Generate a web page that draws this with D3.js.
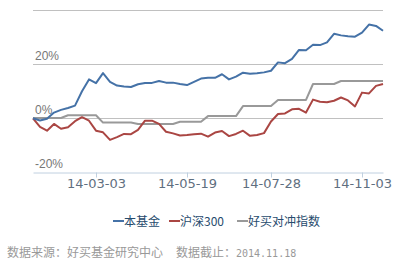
<!DOCTYPE html>
<html>
<head>
<meta charset="utf-8">
<script src="https://cdn.jsdelivr.net/npm/d3@7"></script>
<style>
  body { margin: 0; background: #fff; }
  svg { display: block; font-family: "Liberation Sans", Arial, sans-serif; }
</style>
</head>
<body>
<div id="chart"></div>
<script>
// weekly cumulative returns (%)
const fundValues = [
  -0.1, -0.9, -0.3, 2.0, 3.0, 3.7, 4.6, 9.9, 14.3, 12.9,
  16.6, 13.4, 12.0, 11.7, 11.5, 12.5, 13.0, 13.0, 13.7, 13.1,
  13.1, 12.6, 12.2, 13.4, 14.6, 14.9, 14.9, 16.2, 14.3, 15.3,
  16.8, 16.4, 16.6, 16.9, 17.5, 20.6, 20.3, 21.9, 25.2, 25.1,
  27.1, 27.0, 28.0, 31.2, 30.6, 30.3, 30.1, 31.6, 34.6, 34.1,
  32.3
];
const hs300Values = [
  -0.1, -3.3, -4.7, -2.2, -4.0, -3.4, -1.2, 0.3, -1.0, -4.7,
  -5.3, -8.1, -7.1, -5.9, -6.0, -4.4, -1.0, -1.0, -2.2, -5.1,
  -5.7, -6.5, -6.3, -6.0, -5.8, -6.9, -5.4, -4.8, -6.7, -5.9,
  -4.7, -6.6, -6.3, -5.6, -1.3, 1.5, 1.7, 3.2, 3.4, 2.0,
  6.8, 6.0, 5.8, 6.4, 7.6, 6.5, 4.3, 9.4, 9.1, 11.9,
  12.6
];
const hedgeValues = [
  0.0, 0.0, 0.0, 0.0, 0.0, 1.0, 1.0, 1.0, 1.0, 1.0,
  -1.7, -1.7, -1.7, -1.7, -1.7, -2.2, -2.2, -2.2, -2.2, -2.2,
  -2.2, -1.4, -1.4, -1.4, -1.4, 0.7, 0.7, 0.7, 0.7, 0.7,
  4.4, 4.4, 4.4, 4.4, 4.4, 6.7, 6.7, 6.7, 6.7, 6.7,
  12.6, 12.6, 12.6, 12.6, 13.7, 13.7, 13.7, 13.7, 13.7, 13.7,
  13.7
];
const seriesNames = ['本基金', '沪深300', '好买对冲指数'];
const tickIndex = [9, 22, 34, 47];
const tickLabels = ['14-03-03', '14-05-19', '14-07-28', '14-11-03'];
const yTicks = [-20, 0, 20, 40];

const W = 400, H = 273;
const colors = ['#4572A7', '#AA4643', '#999999'];
const series = [fundValues, hs300Values, hedgeValues].map((v, i) => ({
  name: seriesNames[i], values: v, color: colors[i]
}));

const svg = d3.select('#chart').append('svg')
  .attr('width', W).attr('height', H);

const x = d3.scaleLinear().domain([0, fundValues.length - 1]).range([33, 383]);
const y = d3.scaleLinear().domain([-20, 40]).range([172, 10]);

// grid lines
svg.append('g')
  .selectAll('line')
  .data(yTicks.filter(d => d > -20))
  .enter().append('line')
  .attr('x1', 33).attr('x2', 383)
  .attr('y1', d => Math.round(y(d)) + 0.5)
  .attr('y2', d => Math.round(y(d)) + 0.5)
  .attr('stroke', '#c0c0c0');

// y labels, sitting on top of the grid line
svg.append('g')
  .selectAll('text')
  .data(yTicks.filter(d => d < 40))
  .enter().append('text')
  .attr('x', 35)
  .attr('y', d => y(d) - 4)
  .attr('font-size', 12)
  .attr('fill', '#777')
  .text(d => d + '%');

// x axis
const xAxis = d3.axisBottom(x)
  .tickValues(tickIndex)
  .tickFormat((d, i) => tickLabels[i])
  .tickSize(5)
  .tickSizeOuter(0);

svg.append('g')
  .attr('transform', 'translate(0,' + (Math.round(y(-20)) + 0.5) + ')')
  .call(xAxis)
  .call(g => g.select('.domain').attr('stroke', '#C0D0E0'))
  .call(g => g.selectAll('.tick line').attr('stroke', '#C0D0E0'))
  .call(g => g.selectAll('.tick text')
    .attr('fill', '#5f6f80')
    .attr('font-family', '"DejaVu Sans", sans-serif')
    .attr('font-size', 13)
    .attr('dy', '0.95em')
    .attr('y', 3));

// lines
const line = d3.line()
  .x((d, i) => x(i))
  .y(d => y(d));

svg.append('g')
  .selectAll('path')
  .data(series.slice().reverse())
  .enter().append('path')
  .attr('fill', 'none')
  .attr('stroke', d => d.color)
  .attr('stroke-width', 2)
  .attr('stroke-linejoin', 'round')
  .attr('d', d => line(d.values));

// legend
const legendX = [113, 169, 237];
const legend = svg.append('g')
  .selectAll('g')
  .data(series)
  .enter().append('g')
  .attr('transform', (d, i) => 'translate(' + legendX[i] + ',221)');
legend.append('line')
  .attr('x1', 0).attr('x2', 11)
  .attr('stroke', d => d.color)
  .attr('stroke-width', 2);
legend.append('text')
  .attr('x', 11)
  .attr('y', 5)
  .attr('font-family', '"Noto Sans CJK SC", sans-serif')
  .attr('font-size', 12)
  .attr('fill', '#274b6d')
  .text(d => d.name);

// footer
const foot = svg.append('text')
  .attr('x', 7)
  .attr('y', 257)
  .attr('font-family', '"Noto Sans CJK SC", sans-serif')
  .attr('font-size', 12)
  .attr('fill', '#999');
foot.append('tspan').text('数据来源：好买基金研究中心');
foot.append('tspan').attr('x', 176).text('数据截止：');
foot.append('tspan')
  .attr('x', 236)
  .attr('font-family', '"DejaVu Sans Mono", monospace')
  .attr('font-size', 10)
  .text('2014.11.18');
</script>
</body>
</html>
